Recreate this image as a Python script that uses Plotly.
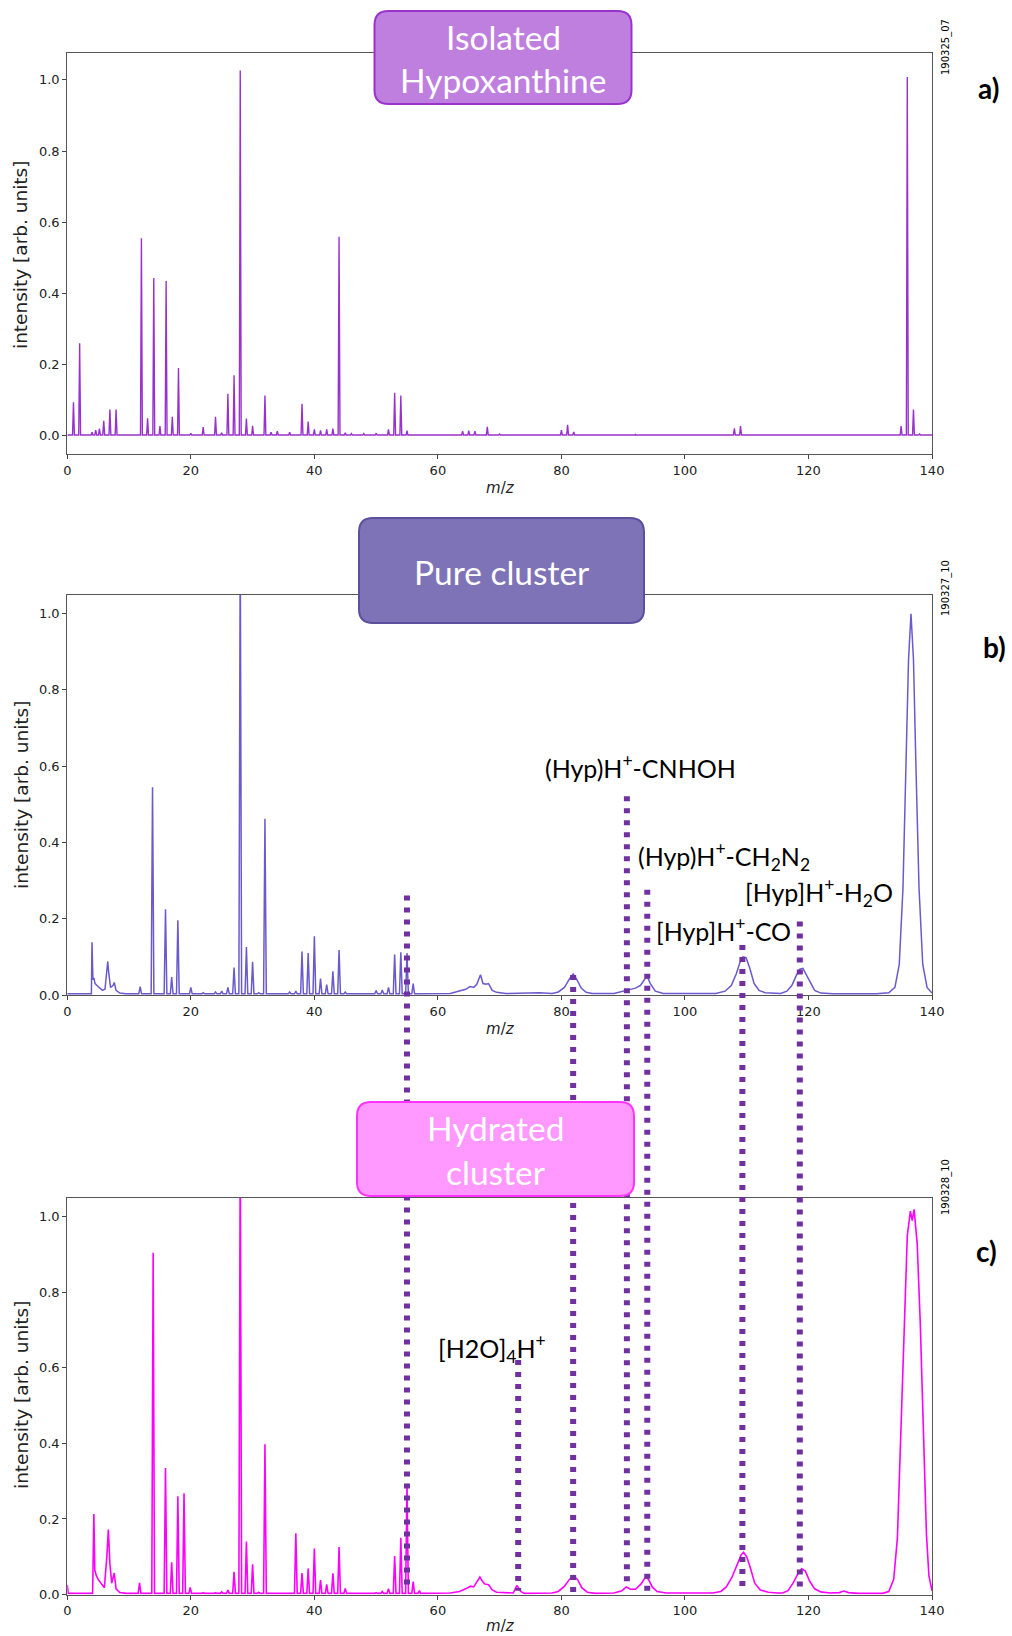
import plotly.graph_objects as go

W, H = 1012, 1636

# ---------------- data ----------------
# Panel a) Isolated Hypoxanthine : narrow peaks
a_peak_mz = [1, 2, 4, 4.6, 5.2, 5.9, 6.9, 7.9, 12, 13, 14, 15, 16, 17, 18, 20, 22, 24, 25,
             26, 27, 28, 29, 30, 32, 33, 34, 36, 38, 39, 40, 41, 42, 43, 44, 45, 46, 48,
             50, 52, 53, 54, 55, 64, 65, 66, 68, 70, 80, 81, 82, 92, 108, 109, 135, 136,
             137, 138]
a_peak_int = [0.094, 0.26, 0.01, 0.016, 0.02, 0.042, 0.074, 0.074, 0.555, 0.049, 0.443,
              0.027, 0.435, 0.053, 0.19, 0.007, 0.024, 0.053, 0.008, 0.118, 0.17, 1.026,
              0.048, 0.028, 0.113, 0.01, 0.013, 0.01, 0.09, 0.04, 0.018, 0.015, 0.018,
              0.02, 0.559, 0.008, 0.006, 0.006, 0.007, 0.018, 0.121, 0.113, 0.014, 0.013,
              0.014, 0.013, 0.025, 0.005, 0.016, 0.031, 0.011, 0.004, 0.021, 0.027, 0.027,
              1.008, 0.074, 0.005]
a_broad_mz = [0, 140]
a_broad_int = [0.002, 0.002]

# Panel b) Pure cluster
b_peak_mz = [11.8, 13.8, 15.9, 16.9, 17.9, 20, 22, 24, 25, 26, 27, 28, 29, 30, 31, 32, 36,
             37, 38, 39, 40, 41, 42, 43, 44, 45, 50, 51, 52, 53, 54, 55, 56]
b_peak_int = [0.022, 0.545, 0.225, 0.047, 0.196, 0.02, 0.006, 0.008, 0.01, 0.02, 0.072,
              1.2, 0.126, 0.087, 0.006, 0.462, 0.008, 0.01, 0.114, 0.11, 0.154, 0.043,
              0.027, 0.062, 0.118, 0.008, 0.012, 0.013, 0.02, 0.106, 0.112, 0.11, 0.03]
b_broad_mz = [0, 3.9, 4.0, 4.15, 4.3, 4.5, 4.8, 5.2, 5.7, 6.1, 6.4, 6.55, 6.7, 7.0, 7.4,
              7.6, 7.9, 8.5, 9.5,
              62, 63.5, 64.5, 65.2, 65.8, 66.3, 66.9, 67.3, 67.8, 68.2, 68.8, 69.5, 71,
              76.5, 77.2,
              78.5, 79.5, 80.5, 81.3, 81.9, 82.5, 83.2, 84, 85,
              88.5, 90, 91, 92, 92.8, 93.5, 93.9, 94.4, 95.2, 96.5,
              105, 106.5, 107.5, 108.3, 108.9, 109.4, 109.9, 110.5, 111.2, 112, 113, 114.5,
              115.5, 116.5, 117.3, 118, 118.6, 119.1, 119.6, 120.3, 121, 122, 124,
              131, 133, 134, 134.7, 135.3, 135.8, 136.2, 136.6, 137, 137.4, 137.9, 138.5,
              139.2, 140]
b_broad_int = [0.003, 0.003, 0.138, 0.04, 0.045, 0.03, 0.025, 0.018, 0.012, 0.015, 0.08,
               0.088, 0.06, 0.02, 0.025, 0.033, 0.012, 0.005, 0.003,
               0.004, 0.01, 0.015, 0.022, 0.02, 0.028, 0.053, 0.03, 0.028, 0.03, 0.012,
               0.007, 0.004,
               0.006, 0.005,
               0.004, 0.008, 0.02, 0.042, 0.055, 0.04, 0.018, 0.007, 0.004,
               0.004, 0.01, 0.013, 0.018, 0.025, 0.042, 0.048, 0.03, 0.01, 0.004,
               0.004, 0.01, 0.025, 0.055, 0.085, 0.1, 0.098, 0.07, 0.03, 0.012, 0.006,
               0.004,
               0.004, 0.01, 0.025, 0.05, 0.068, 0.07, 0.055, 0.03, 0.012, 0.005, 0.003,
               0.003, 0.006, 0.02, 0.08, 0.28, 0.6, 0.88, 1.0, 0.88, 0.6, 0.28, 0.08,
               0.02, 0.005]

# Panel c) Hydrated cluster
c_peak_mz = [11.7, 13.9, 15.9, 16.9, 17.9, 18.9, 19.9, 22, 24, 25, 26, 27, 28, 29, 30, 31,
             32, 36, 37, 38, 39, 40, 41, 42, 43, 44, 45, 46, 50, 51, 52, 53, 54, 55, 56, 57]
c_peak_int = [0.031, 0.905, 0.335, 0.085, 0.26, 0.268, 0.019, 0.005, 0.005, 0.007, 0.012,
              0.06, 1.2, 0.14, 0.08, 0.006, 0.398, 0.004, 0.162, 0.057, 0.069, 0.122,
              0.038, 0.027, 0.056, 0.126, 0.016, 0.004, 0.005, 0.008, 0.015, 0.102, 0.15,
              0.293, 0.034, 0.01]
c_broad_mz = [0, 0.15, 4.1, 4.3, 4.45, 4.7, 5.0, 5.5, 6.0, 6.4, 6.65, 6.9, 7.2, 7.6, 7.9,
              8.5, 9.5,
              62, 63.5, 64.5, 65.3, 65.8, 66.2, 66.8, 67.2, 67.6, 68.2, 68.8, 69.5, 71,
              72.2, 72.8, 73.4, 74,
              78.5, 79.5, 80.5, 81.3, 81.9, 82.6, 83.3, 84.2, 85.5,
              88.5, 89.8, 90.5, 91.2, 92, 92.9, 93.6, 94.1, 94.7, 95.5, 97,
              104.5, 105.8, 106.7, 107.6, 108.4, 109.1, 109.5, 110, 110.6, 111.3, 112.2,
              113.5, 115,
              115.8, 116.7, 117.5, 118.3, 118.9, 119.5, 120.2, 121, 122, 123.5,
              125, 125.7, 126.5, 128,
              132, 133, 133.8, 134.4, 135.0, 135.5, 136.0, 136.5, 136.8, 137.1, 137.6,
              138.1, 138.6, 139.1, 139.5, 140]
c_broad_int = [0.025, 0.003, 0.003, 0.213, 0.065, 0.05, 0.04, 0.03, 0.018, 0.1, 0.172,
               0.08, 0.03, 0.057, 0.015, 0.005, 0.003,
               0.004, 0.008, 0.015, 0.022, 0.02, 0.03, 0.046, 0.035, 0.028, 0.026, 0.012,
               0.006, 0.004,
               0.004, 0.024, 0.008, 0.003,
               0.004, 0.008, 0.022, 0.04, 0.05, 0.04, 0.018, 0.006, 0.003,
               0.004, 0.01, 0.02, 0.014, 0.014, 0.028, 0.046, 0.04, 0.02, 0.008, 0.004,
               0.004, 0.008, 0.02, 0.045, 0.075, 0.105, 0.112, 0.1, 0.07, 0.03, 0.012,
               0.006, 0.004,
               0.004, 0.01, 0.03, 0.055, 0.068, 0.062, 0.035, 0.015, 0.007, 0.004,
               0.005, 0.009, 0.005, 0.003,
               0.003, 0.008, 0.04, 0.15, 0.45, 0.75, 0.95, 1.015, 0.99, 1.02, 0.93,
               0.72, 0.42, 0.16, 0.05, 0.01]

# Fragment markers (dotted lines): m/z, top (in panel b units), bottom (in panel c units)
frag_mz = [55, 81.9, 90.6, 93.9, 109.3, 118.6]
frag_top_b = [0.261, 0.0525, 0.521, 0.276, 0.131, 0.193]
frag_bottom_c = [0.015, -0.005, 0.02, 0.01, 0.01, 0.01]
water_mz = [73.0]
water_top_c = [0.621]
water_bottom_c = [0.01]

x_ticks = [0, 20, 40, 60, 80, 100, 120, 140]
y_ticks = [0.0, 0.2, 0.4, 0.6, 0.8, 1.0]
y_ticktext = ["0.0", "0.2", "0.4", "0.6", "0.8", "1.0"]

# ---------------- layout geometry (pixels) ----------------
PX_L, PX_R = 67.3, 932.0
PANELS = {
    "a": dict(top=52.7, bottom=454.0, yr=[-0.0513, 1.0763]),
    "b": dict(top=594.6, bottom=995.0, yr=[0.0, 1.05]),
    "c": dict(top=1198.0, bottom=1594.5, yr=[0.0, 1.05]),
}


def px(x):
    return x / W


def py(y):
    return 1 - y / H


def build(bmz, bint, pmz, pint, hw, base):
    pts = list(zip(bmz, bint))
    for m, h in zip(pmz, pint):
        pts += [(m - hw, base), (m, h), (m + hw, base)]
    pts.sort()
    return [p[0] for p in pts], [p[1] for p in pts]


fig = go.Figure()

xa, ya = build(a_broad_mz, a_broad_int, a_peak_mz, a_peak_int, 0.15, 0.002)
xb, yb = build(b_broad_mz, b_broad_int, b_peak_mz, b_peak_int, 0.22, 0.003)
xc, yc = build(c_broad_mz, c_broad_int, c_peak_mz, c_peak_int, 0.22, 0.003)

fig.add_trace(go.Scatter(x=xa, y=ya, mode="lines", line=dict(color="#9932CC", width=1.4),
                         xaxis="x", yaxis="y", showlegend=False, hoverinfo="skip"))
fig.add_trace(go.Scatter(x=xb, y=yb, mode="lines", line=dict(color="#6A5ACD", width=1.5),
                         xaxis="x2", yaxis="y2", showlegend=False, hoverinfo="skip"))
fig.add_trace(go.Scatter(x=xc, y=yc, mode="lines", line=dict(color="#FF00FF", width=1.6),
                         xaxis="x3", yaxis="y3", showlegend=False, hoverinfo="skip"))

axis_common = dict(showline=True, mirror=True, linecolor="#555555", linewidth=1.2,
                   ticks="outside", ticklen=4, tickcolor="#444444", showgrid=False,
                   zeroline=False, automargin=False,
                   tickfont=dict(family="DejaVu Sans", size=13, color="#222222"))

layout = dict(width=W, height=H, margin=dict(l=0, r=0, t=0, b=0, pad=0, autoexpand=False),
              paper_bgcolor="white", plot_bgcolor="white", showlegend=False)

for i, key in enumerate(["a", "b", "c"]):
    p = PANELS[key]
    sfx = "" if i == 0 else str(i + 1)
    layout["xaxis" + sfx] = dict(domain=[px(PX_L), px(PX_R)], range=[0, 140],
                                 tickvals=x_ticks, anchor="y" + sfx, **axis_common)
    layout["yaxis" + sfx] = dict(domain=[py(p["bottom"]), py(p["top"])], range=p["yr"],
                                 tickvals=y_ticks, ticktext=y_ticktext,
                                 anchor="x" + sfx, **axis_common)

fig.update_layout(**layout)


def data_to_paper(v, key):
    p = PANELS[key]
    lo, hi = p["yr"]
    d0, d1 = py(p["bottom"]), py(p["top"])
    return d0 + (v - lo) / (hi - lo) * (d1 - d0)


shapes = []
DOT = dict(color="#7030A0", width=6, dash="5px,7px")
for m, t, b in zip(frag_mz, frag_top_b, frag_bottom_c):
    shapes.append(dict(type="line", xref="x2", yref="paper", x0=m, x1=m,
                       y0=data_to_paper(t, "b"), y1=data_to_paper(b, "c"), line=DOT))
for m, t, b in zip(water_mz, water_top_c, water_bottom_c):
    shapes.append(dict(type="line", xref="x3", yref="paper", x0=m, x1=m,
                       y0=data_to_paper(t, "c"), y1=data_to_paper(b, "c"), line=DOT))


def rrect(x0, y0, x1, y1, r):
    rx, ry = r / W, r / H
    X0, X1 = px(x0), px(x1)
    Y0, Y1 = py(y0), py(y1)  # Y0 top, Y1 bottom
    return (f"M {X0+rx},{Y0} L {X1-rx},{Y0} Q {X1},{Y0} {X1},{Y0-ry} "
            f"L {X1},{Y1+ry} Q {X1},{Y1} {X1-rx},{Y1} L {X0+rx},{Y1} "
            f"Q {X0},{Y1} {X0},{Y1+ry} L {X0},{Y0-ry} Q {X0},{Y0} {X0+rx},{Y0} Z")


boxes = [
    ((374.5, 11, 631.5, 104), "#BF7FDF", "#9933CC"),
    ((359, 518, 644, 623), "#7F73B8", "#5B4F9E"),
    ((357, 1102, 634, 1196), "#FF99FF", "#FF33FF"),
]
for (x0, y0, x1, y1), fc, lc in boxes:
    shapes.append(dict(type="path", xref="paper", yref="paper", path=rrect(x0, y0, x1, y1, 14),
                       fillcolor=fc, line=dict(color=lc, width=2), layer="above"))

fig.update_layout(shapes=shapes)

ann = []
BOXFONT = dict(family="Lato", size=33.5, color="white")


def text(x, y, s, font, xanchor="center", yanchor="middle", angle=0):
    ann.append(dict(x=px(x), y=py(y), xref="paper", yref="paper", text=s, showarrow=False,
                    font=font, xanchor=xanchor, yanchor=yanchor, textangle=angle))


text(503, 37, "Isolated", BOXFONT)
text(503, 80, "Hypoxanthine", BOXFONT)
text(501.5, 572, "Pure cluster", BOXFONT)
text(495.5, 1128, "Hydrated", BOXFONT)
text(495.5, 1172, "cluster", BOXFONT)

LBL = dict(family="Lato", size=25, color="black")
text(543, 766, "(Hyp)H<sup>+</sup>-CNHOH", LBL, xanchor="left")
text(636, 856, "(Hyp)H<sup>+</sup>-CH<sub>2</sub>N<sub>2</sub>", LBL, xanchor="left")
text(743, 892, "[Hyp]H<sup>+</sup>-H<sub>2</sub>O", LBL, xanchor="left")
text(654, 929, "[Hyp]H<sup>+</sup>-CO", LBL, xanchor="left")
text(436, 1348, "[H2O]<sub>4</sub>H<sup>+</sup>", LBL, xanchor="left")

PANEL_LBL = dict(family="Lato", size=28, color="black", weight="bold")
text(988, 88, "a)", PANEL_LBL)
text(994, 647, "b)", PANEL_LBL)
text(986, 1251, "c)", PANEL_LBL)

STAMP = dict(family="DejaVu Sans", size=10, color="black")
text(946, 47, "190325_07", STAMP, angle=-90)
text(946, 588, "190327_10", STAMP, angle=-90)
text(946, 1187, "190328_10", STAMP, angle=-90)

YL = dict(family="DejaVu Sans", size=18.5, color="#222222")
text(21, 255, "intensity [arb. units]", YL, angle=-90)
text(21, 795, "intensity [arb. units]", YL, angle=-90)
text(21, 1395, "intensity [arb. units]", YL, angle=-90)

XL = dict(family="DejaVu Sans", size=15, color="#222222")
text(500, 488, "<i>m</i>/<i>z</i>", XL)
text(500, 1029, "<i>m</i>/<i>z</i>", XL)
text(500, 1626, "<i>m</i>/<i>z</i>", XL)

fig.update_layout(annotations=ann)
fig.write_html("out.html", config={"displayModeBar": False},
               post_script="document.body.style.margin='0';document.body.style.overflow='hidden';")
